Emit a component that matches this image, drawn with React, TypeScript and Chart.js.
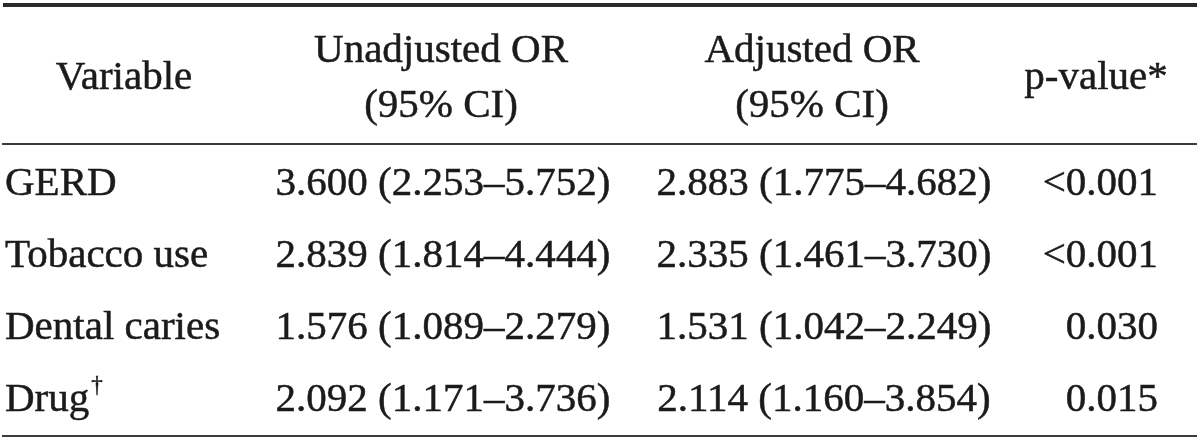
import React, { useEffect, useRef } from "react";
import { Chart, registerables } from "chart.js";

Chart.register(...registerables);

// ---------- data ----------
const VARIABLES = ["GERD", "Tobacco use", "Dental caries", "Drug†"];
const UNADJ_OR = [3.6, 2.839, 1.576, 2.092];
const UNADJ_LO = [2.253, 1.814, 1.089, 1.171];
const UNADJ_HI = [5.752, 4.444, 2.279, 3.736];
const ADJ_OR = [2.883, 2.335, 1.531, 2.114];
const ADJ_LO = [1.775, 1.461, 1.042, 1.16];
const ADJ_HI = [4.682, 3.73, 2.249, 3.854];
const P_VALUES = ["<0.001", "<0.001", "0.030", "0.015"];
const HEADERS = [["Variable"], ["Unadjusted OR", "(95% CI)"], ["Adjusted OR", "(95% CI)"], ["p-value*"]];

// ---------- layout / style ----------
const W = 1200;
const H = 442;
const FONT = '"Liberation Serif", "Times New Roman", serif';
const FONT_SIZE = 41;
const TEXT_COLOR = "#1c1a1b";
const RULE_COLOR = "#3c3c3c";
const TOP_RULE_COLOR = "#2a2a2a";
// column anchors (x axis units) and alignment for body cells
const COL_X = [5, 443, 824, 1158];
const COL_ALIGN: CanvasTextAlign[] = ["left", "center", "center", "right"];
const HEADER_X = [124, 441, 812, 1096];
const HEADER_SINGLE_BASELINE = -56; // relative to chartArea.top
const HEADER_LINE_BASELINES = [-83, -28];
const BASELINE_SHIFT = 13.5;

const fmt = (v: number) => v.toFixed(3);

function cellTexts(i: number): string[] {
  return [
    VARIABLES[i],
    `${fmt(UNADJ_OR[i])} (${fmt(UNADJ_LO[i])}–${fmt(UNADJ_HI[i])})`,
    `${fmt(ADJ_OR[i])} (${fmt(ADJ_LO[i])}–${fmt(ADJ_HI[i])})`,
    P_VALUES[i],
  ];
}

const cells: { x: number; y: string; col: number; text: string }[] = [];
VARIABLES.forEach((v, i) => {
  cellTexts(i).forEach((t, c) => cells.push({ x: COL_X[c], y: v, col: c, text: t }));
});

const font = (s: number) => `${s}px ${FONT}`;

function put(ctx: CanvasRenderingContext2D, text: string, x: number, y: number) {
  ctx.fillText(text, x, y);
  ctx.strokeText(text, x, y);
}

function drawLabel(ctx: CanvasRenderingContext2D, text: string, x: number, y: number, align: CanvasTextAlign) {
  if (text.endsWith("†")) {
    const main = text.slice(0, -1);
    ctx.font = font(FONT_SIZE);
    ctx.textAlign = "left";
    put(ctx, main, x, y);
    const w = ctx.measureText(main).width;
    ctx.font = font(23);
    put(ctx, "†", x + w + 2, y - 19);
    ctx.font = font(FONT_SIZE);
    return;
  }
  ctx.font = font(FONT_SIZE);
  ctx.textAlign = align;
  put(ctx, text, x, y);
}

const tablePlugin = {
  id: "tableText",
  afterDatasetsDraw(chart: any) {
    const ctx: CanvasRenderingContext2D = chart.ctx;
    const { top, bottom } = chart.chartArea;
    const xs = chart.scales.x;
    ctx.save();
    // rules
    ctx.fillStyle = TOP_RULE_COLOR;
    ctx.fillRect(3, 3, W - 6, 4);
    ctx.fillStyle = RULE_COLOR;
    ctx.fillRect(2, top - 2, W - 5, 2);
    ctx.fillRect(2, bottom + 1.5, W - 5, 2);
    // header
    ctx.fillStyle = TEXT_COLOR;
    ctx.strokeStyle = TEXT_COLOR;
    ctx.lineWidth = 0.5;
    ctx.textBaseline = "alphabetic";
    ctx.font = font(FONT_SIZE);
    HEADERS.forEach((lines, c) => {
      const x = xs.getPixelForValue(HEADER_X[c]);
      ctx.textAlign = "center";
      if (lines.length === 1) {
        put(ctx, lines[0], x, top + HEADER_SINGLE_BASELINE);
      } else {
        lines.forEach((l, j) => put(ctx, l, x, top + HEADER_LINE_BASELINES[j]));
      }
    });
    // body cells placed by the scales
    const meta = chart.getDatasetMeta(0);
    const data = chart.data.datasets[0].data as any[];
    meta.data.forEach((el: any, k: number) => {
      const d = data[k];
      drawLabel(ctx, d.text, el.x, el.y + BASELINE_SHIFT, COL_ALIGN[d.col]);
    });
    ctx.restore();
  },
};

export default function App() {
  const ref = useRef<HTMLCanvasElement>(null);
  useEffect(() => {
    document.body.style.margin = "0";
    const canvas = ref.current!;
    const chart = new Chart(canvas, {
      type: "scatter",
      data: {
        datasets: [
          {
            data: cells as any,
            pointRadius: 0,
            pointHoverRadius: 0,
            backgroundColor: "transparent",
            borderColor: "transparent",
          },
        ],
      },
      options: {
        responsive: false,
        animation: false,
        devicePixelRatio: 1,
        layout: { padding: { top: 145, bottom: 8.5, left: 0, right: 0 } },
        scales: {
          x: { type: "linear", min: 0, max: W, display: false },
          y: { type: "category", labels: VARIABLES, offset: true, display: false },
        },
        plugins: { legend: { display: false }, tooltip: { enabled: false } },
        events: [],
      },
      plugins: [tablePlugin],
    });
    return () => chart.destroy();
  }, []);
  return (
    <div style={{ width: W, height: H, background: "#fff" }}>
      <canvas ref={ref} width={W} height={H} style={{ display: "block" }} />
    </div>
  );
}
